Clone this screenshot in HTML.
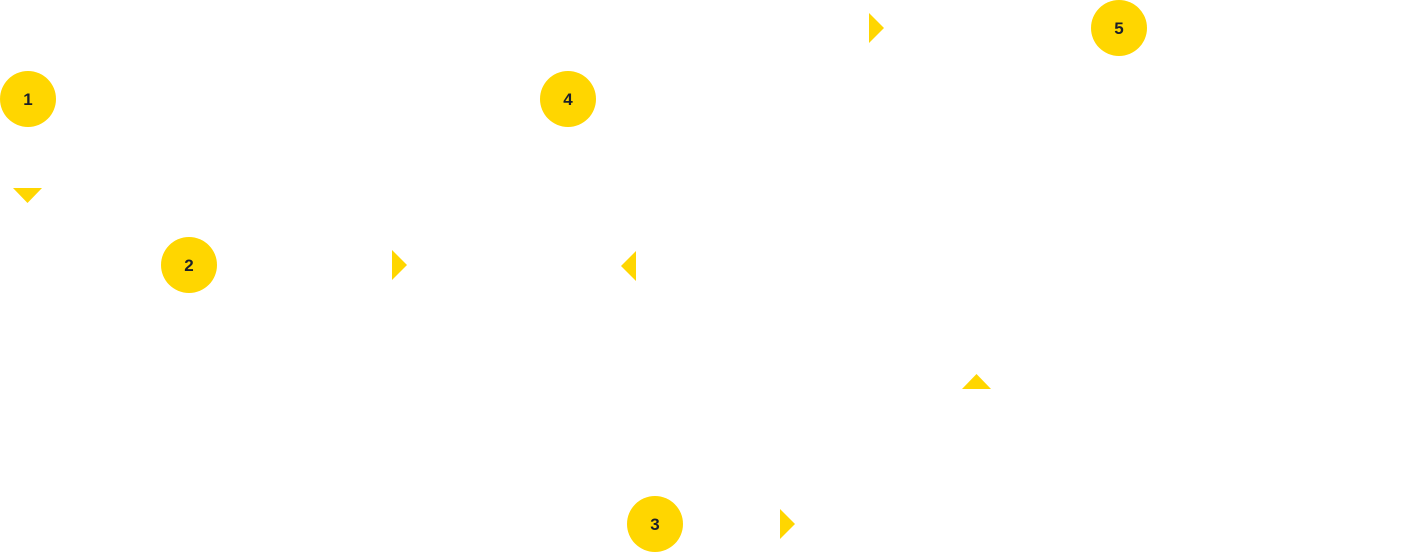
<!DOCTYPE html>
<html><head><meta charset="utf-8"><style>
html,body{margin:0;padding:0;background:#fff;width:1425px;height:552px;overflow:hidden}
svg{display:block}
text{font-family:"Liberation Sans",sans-serif;font-weight:bold;font-size:17px;fill:#1b1f2a}
</style></head><body>
<svg width="1425" height="552" viewBox="0 0 1425 552">
<g fill="#FFD600">
<circle cx="28" cy="99" r="28"/>
<circle cx="568" cy="99" r="28"/>
<circle cx="1119" cy="28" r="28"/>
<circle cx="189" cy="265" r="28"/>
<circle cx="655" cy="524" r="28"/>
<polygon points="13,188 42,188 27.5,203"/>
<polygon points="392,250 407,265 392,280"/>
<polygon points="636,251 621,266 636,281"/>
<polygon points="962,389 991,389 976.5,374"/>
<polygon points="869,13 884,28 869,43"/>
<polygon points="780,509 795,524 780,539"/>
</g>
<text x="28" y="105" text-anchor="middle">1</text>
<text x="568" y="105" text-anchor="middle">4</text>
<text x="1119" y="34" text-anchor="middle">5</text>
<text x="189" y="271" text-anchor="middle">2</text>
<text x="655" y="530" text-anchor="middle">3</text>
</svg>
</body></html>
